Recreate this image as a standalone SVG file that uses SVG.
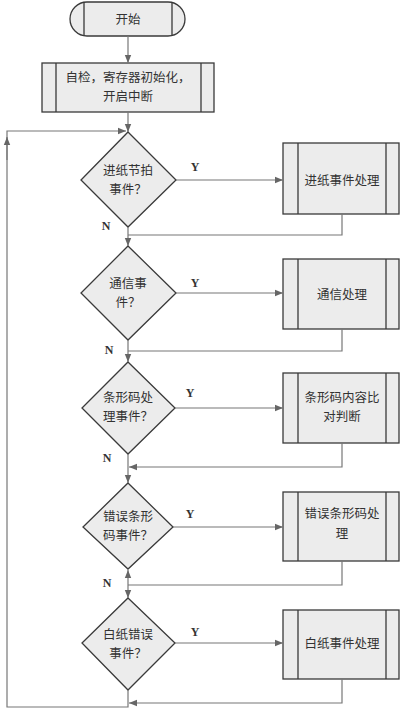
<svg xmlns="http://www.w3.org/2000/svg" width="400" height="709" viewBox="0 0 400 709">
<style>
.sh{fill:#ececec;stroke:#3a3a3a;stroke-width:1.3}
.in{stroke:#3a3a3a;stroke-width:1.3}
.t{font-family:"Noto Sans CJK SC",sans-serif;font-size:12.5px;fill:#333;text-anchor:middle}
.l{font-family:"Liberation Serif",serif;font-size:12px;font-weight:bold;fill:#333;text-anchor:middle}
.c{fill:none;stroke:#777;stroke-width:1.2}
</style>
<defs>
<marker id="a" viewBox="0 0 10 10" refX="10" refY="5" markerWidth="8" markerHeight="8" orient="auto" markerUnits="userSpaceOnUse"><path d="M0,1 L10,5 L0,9 Z" fill="#666"/></marker>
</defs>
<rect width="400" height="709" fill="#fff"/>
<g id="start">
<rect class="sh" x="70" y="2" width="115" height="34" rx="17"/>
<line class="in" x1="84" y1="2" x2="84" y2="36"/><line class="in" x1="172" y1="2" x2="172" y2="36"/>
<text class="t" x="128" y="24">开始</text>
</g>
<g id="init">
<rect class="sh" x="42" y="63" width="172" height="49"/>
<line class="in" x1="56" y1="63" x2="56" y2="112"/><line class="in" x1="201" y1="63" x2="201" y2="112"/>
<text class="t" x="128" y="82">自检，寄存器初始化，</text>
<text class="t" x="128" y="101">开启中断</text>
</g>
<g id="d1"><polygon class="sh" points="128,132 176,180 128,227 81,180"/>
<text class="t" x="128" y="175">进纸节拍</text><text class="t" x="128" y="194">事件？</text></g>
<g id="p1"><rect class="sh" x="283" y="143" width="116" height="71"/>
<line class="in" x1="298" y1="143" x2="298" y2="214"/><line class="in" x1="386" y1="143" x2="386" y2="214"/>
<text class="t" x="342" y="185">进纸事件处理</text></g>
<g id="d2"><polygon class="sh" points="128,246 176,293 128,340 81,293"/>
<text class="t" x="128" y="288">通信事</text><text class="t" x="128" y="307">件？</text></g>
<g id="p2"><rect class="sh" x="283" y="259" width="116" height="70"/>
<line class="in" x1="298" y1="259" x2="298" y2="329"/><line class="in" x1="386" y1="259" x2="386" y2="329"/>
<text class="t" x="342" y="299">通信处理</text></g>
<g id="d3"><polygon class="sh" points="128,362 175,408 128,454 82,408"/>
<text class="t" x="128" y="402">条形码处</text><text class="t" x="128" y="421">理事件？</text></g>
<g id="p3"><rect class="sh" x="283" y="373" width="116" height="70"/>
<line class="in" x1="298" y1="373" x2="298" y2="443"/><line class="in" x1="386" y1="373" x2="386" y2="443"/>
<text class="t" x="342" y="402">条形码内容比</text><text class="t" x="342" y="421">对判断</text></g>
<g id="d4"><polygon class="sh" points="128,483 173,527 128,569 83,527"/>
<text class="t" x="128" y="521">错误条形</text><text class="t" x="128" y="540">码事件？</text></g>
<g id="p4"><rect class="sh" x="283" y="492" width="116" height="69"/>
<line class="in" x1="298" y1="492" x2="298" y2="561"/><line class="in" x1="386" y1="492" x2="386" y2="561"/>
<text class="t" x="342" y="518">错误条形码处</text><text class="t" x="342" y="538">理</text></g>
<g id="d5"><polygon class="sh" points="128,598 175,643 128,690 82,643"/>
<text class="t" x="128" y="639">白纸错误</text><text class="t" x="128" y="658">事件？</text></g>
<g id="p5"><rect class="sh" x="283" y="610" width="116" height="69"/>
<line class="in" x1="298" y1="610" x2="298" y2="679"/><line class="in" x1="386" y1="610" x2="386" y2="679"/>
<text class="t" x="342" y="648">白纸事件处理</text></g>
<g id="connectors">
<path class="c" d="M128,36 V63" marker-end="url(#a)"/>
<path class="c" d="M128,112 V132" marker-end="url(#a)"/>
<path class="c" d="M128,690 V707 H7 V131 H126" marker-end="url(#a)"/>
<path class="c" d="M7,160 V137" marker-end="url(#a)"/>
<path class="c" d="M176,180 H283" marker-end="url(#a)"/>
<path class="c" d="M342,214 V235 H128"/>
<path class="c" d="M128,227 V246" marker-end="url(#a)"/>
<path class="c" d="M176,293 H283" marker-end="url(#a)"/>
<path class="c" d="M342,329 V351 H128"/>
<path class="c" d="M128,340 V362" marker-end="url(#a)"/>
<path class="c" d="M175,408 H283" marker-end="url(#a)"/>
<path class="c" d="M342,443 V467 H129" marker-end="url(#a)"/>
<path class="c" d="M128,454 V483" marker-end="url(#a)"/>
<path class="c" d="M173,527 H283" marker-end="url(#a)"/>
<path class="c" d="M342,561 V585 H128"/>
<path class="c" d="M128,585 V570" marker-end="url(#a)"/>
<path class="c" d="M128,585 V598" marker-end="url(#a)"/>
<path class="c" d="M175,643 H283" marker-end="url(#a)"/>
<path class="c" d="M342,679 V703 H129" marker-end="url(#a)"/>
<text class="l" x="195" y="171">Y</text><text class="l" x="106" y="230">N</text>
<text class="l" x="195" y="287">Y</text><text class="l" x="109" y="354">N</text>
<text class="l" x="190" y="397">Y</text><text class="l" x="107" y="462">N</text>
<text class="l" x="190" y="518">Y</text><text class="l" x="107" y="587">N</text>
<text class="l" x="195" y="636">Y</text>
</g>
</svg>
